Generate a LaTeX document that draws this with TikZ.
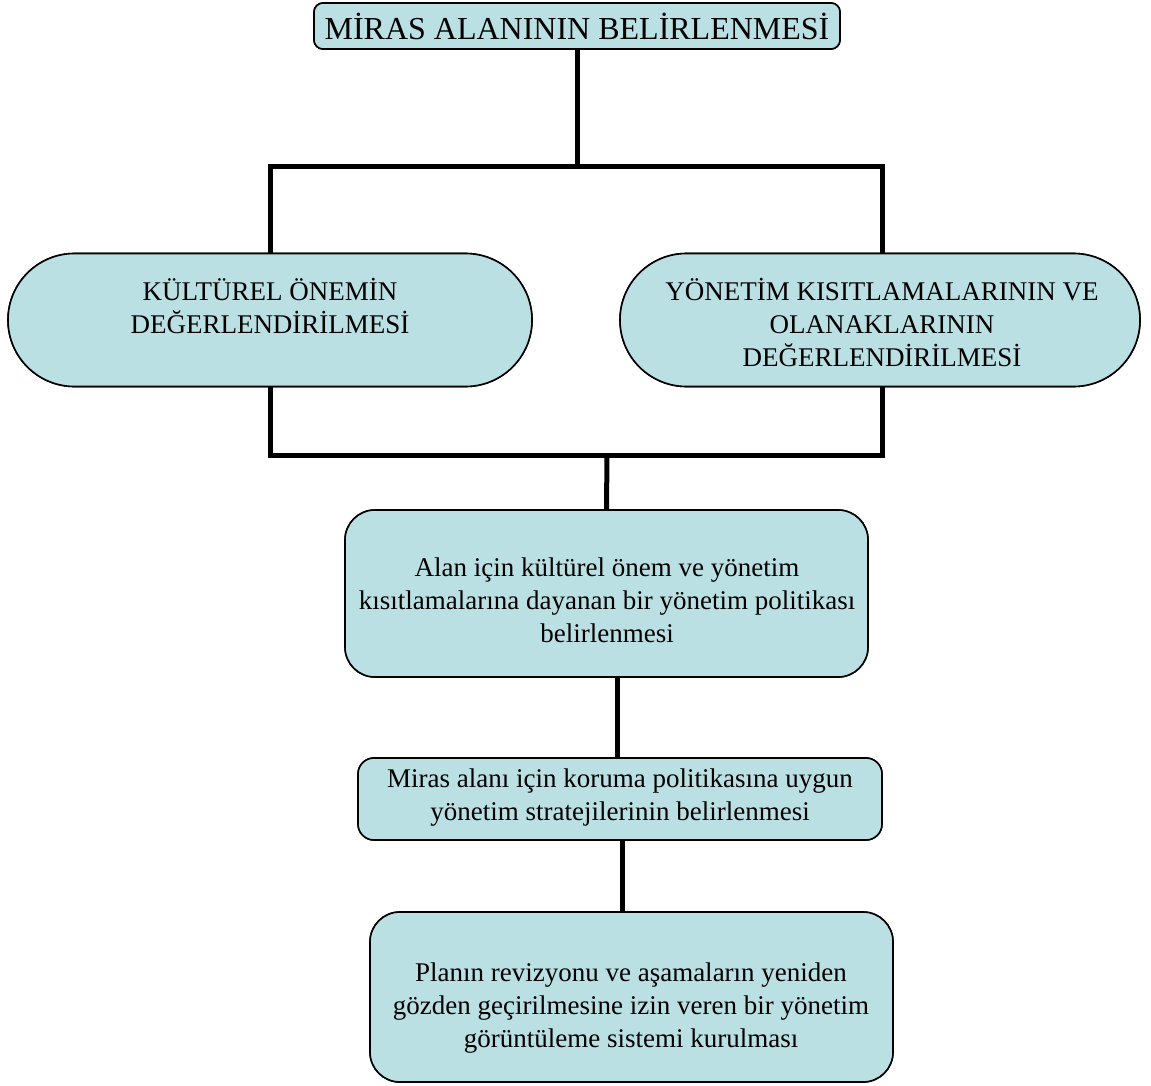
\documentclass[tikz,border=0pt]{standalone}
\usepackage{fontspec}
\setmainfont{Liberation Serif}
\usetikzlibrary{shapes.misc}
\definecolor{boxfill}{RGB}{187,224,227}
\tikzset{
  box/.style={draw=black, line width=1.6pt, fill=boxfill, rectangle, inner sep=0pt},
  pill/.style={draw=black, line width=1.6pt, fill=boxfill, rounded rectangle, inner sep=0pt},
  link/.style={draw=black, line width=5pt},
  txt/.style={align=center, font=\fontsize{27}{33}\selectfont, inner sep=0pt},
  titlebox/.style={box, rounded corners=9pt, minimum width=526pt, minimum height=46pt,
                   font=\fontsize{32}{36}\selectfont},
  leftpill/.style={pill, minimum width=524pt, minimum height=133pt},
  rightpill/.style={pill, minimum width=520pt, minimum height=133pt},
  policybox/.style={box, rounded corners=30pt, minimum width=523pt, minimum height=167pt},
  stratbox/.style={box, rounded corners=16pt, minimum width=524pt, minimum height=82pt},
  monbox/.style={box, rounded corners=30pt, minimum width=523pt, minimum height=170pt},
}
\begin{document}
\begin{tikzpicture}[x=1pt,y=-1pt]
\path[use as bounding box] (0,0) rectangle (1151,1086);

\coordinate (topsplit) at (577,167);
\coordinate (merge) at (607,455);

% boxes placed first so that the lines can refer to them
\node[titlebox] (title) at (577,26) {MİRAS ALANININ BELİRLENMESİ};
\node[leftpill] (left) at (270,320) {};
\node[rightpill] (right) at (880,320) {};
\node[policybox] (policy) at (606.5,593.5) {};
\node[stratbox] (strategy) at (620,799) {};
\node[monbox] (monitor) at (631.5,997) {};

% connecting lines
\path[link] (title.south) -- (topsplit);
\path[link] (left.north -| 270,0) |- (topsplit) -| (right.north -| 882,0);
\path[link] (left.south -| 270,0) |- (merge) -| (right.south -| 882,0);
\path[link] (merge) -- (policy.north);
\path[link] (policy.south -| 617,0) -- (strategy.north -| 617,0);
\path[link] (strategy.south -| 622,0) -- (monitor.north -| 622,0);

% boxes drawn again over the line ends
\node[titlebox] at (title) {MİRAS ALANININ BELİRLENMESİ};
\node[leftpill] at (left) {};
\node[rightpill] at (right) {};
\node[policybox] at (policy) {};
\node[stratbox] at (strategy) {};
\node[monbox] at (monitor) {};

% texts
\node[txt] (lefttxt) at (270,306) {KÜLTÜREL ÖNEMİN\\DEĞERLENDİRİLMESİ};
\node[txt] (righttxt) at (882,322) {YÖNETİM KISITLAMALARININ VE\\OLANAKLARININ\\DEĞERLENDİRİLMESİ};
\node[txt] (policytxt) at (607,600) {Alan için kültürel önem ve yönetim\\kısıtlamalarına dayanan bir yönetim politikası\\belirlenmesi};
\node[txt] (strattxt) at (620,798) {Miras alanı için koruma politikasına uygun\\yönetim stratejilerinin belirlenmesi};
\node[txt] (montxt) at (631,1008) {Planın revizyonu ve aşamaların yeniden\\gözden geçirilmesine izin veren bir yönetim\\görüntüleme sistemi kurulması};
\end{tikzpicture}
\end{document}
